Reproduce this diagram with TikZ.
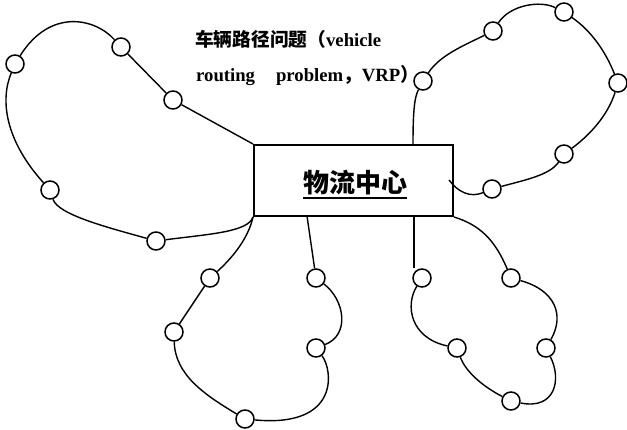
\documentclass[tikz,border=0pt]{standalone}
\usepackage{fontspec}
\setmainfont{Liberation Serif}
\newfontfamily\cjk{Noto Sans CJK SC}
\begin{document}
\begin{tikzpicture}[x=1pt,y=-1pt,
  stop/.style={circle,draw,line width=1.5pt,minimum size=18pt,inner sep=0pt},
  route/.style={line width=1.4pt},
  hub/.style={draw,line width=2pt,minimum width=199pt,minimum height=71pt,inner sep=0pt}]
\useasboundingbox (0,0) rectangle (627,430);
% title
\node[anchor=base west,inner sep=0pt,font=\fontsize{18.7}{22}\selectfont\bfseries] (t1) at (195,47) {{\cjk 车辆路径问题（}vehicle};
\node[anchor=base west,inner sep=0pt,font=\fontsize{18.7}{22}\selectfont\bfseries] (t2) at (196,82) {routing\hspace{21pt}problem{\cjk ，}VRP{\cjk ）}};
% hub
\node[hub] (box) at (353.5,180.5) {};
\node[anchor=base,inner sep=0pt,font=\fontsize{26}{30}\selectfont\cjk\bfseries] (hubtxt) at (355,193) {物流中心};
\draw[line width=2pt] ([yshift=-5pt]hubtxt.base west) -- ([yshift=-5pt]hubtxt.base east);
% border coordinates
\coordinate (bb1) at (307,216);
\coordinate (bb2) at (414,216);
\coordinate (bt1) at (413,145);
\coordinate (br1) at (449,180);
% stops
\node[stop] (L1) at (15,64) {};
\node[stop] (L2) at (121,47) {};
\node[stop] (L3) at (173,100) {};
\node[stop] (L4) at (50,190) {};
\node[stop] (L5) at (156,241) {};
\node[stop] (B1) at (210,278) {};
\node[stop] (B2) at (174,332) {};
\node[stop] (B3) at (245,419) {};
\node[stop] (B4) at (316,348) {};
\node[stop] (B5) at (316,278) {};
\node[stop] (R1) at (422,278) {};
\node[stop] (R2) at (457,348) {};
\node[stop] (R3) at (511,401) {};
\node[stop] (R4) at (546,348) {};
\node[stop] (R5) at (511,278) {};
\node[stop] (T1) at (423,81) {};
\node[stop] (T2) at (493,31) {};
\node[stop] (T3) at (564,12) {};
\node[stop] (T4) at (618,83) {};
\node[stop] (T5) at (564,154) {};
\node[stop] (T6) at (492,189) {};
% left loop
\draw[route] (box.north west) -- (L3);
\draw[route] (L3) -- (L2);
\draw[route] (L2) .. controls (95,18) and (50,8) .. (L1);
\draw[route] (L1) .. controls (0,100) and (5,140) .. (L4);
\draw[route] (L4) .. controls (58,215) and (110,228) .. (L5);
\draw[route] (L5) .. controls (210,234) and (248,232) .. (box.south west);
% bottom-left loop
\draw[route] (box.south west) .. controls (248,240) and (230,260) .. (B1);
\draw[route] (B1) -- (B2);
\draw[route] (B2) .. controls (175,375) and (205,395) .. (B3);
\draw[route] (B3) .. controls (340,428) and (333,370) .. (B4);
\draw[route] (B4) .. controls (350,335) and (345,300) .. (B5);
\draw[route] (B5) -- (bb1);
% bottom-right loop
\draw[route] (bb2) -- (bb2 |- R1.north);
\draw[route] (R1) .. controls (405,305) and (410,338) .. (R2);
\draw[route] (R2) .. controls (465,370) and (480,385) .. (R3);
\draw[route] (R3) .. controls (555,410) and (562,380) .. (R4);
\draw[route] (R4) .. controls (565,315) and (555,290) .. (R5);
\draw[route] (R5) .. controls (495,240) and (480,225) .. (box.south east);
% top-right loop
\draw[route] (bt1) .. controls (413,115) and (414,98) .. (T1);
\draw[route] (T1) .. controls (440,55) and (465,45) .. (T2);
\draw[route] (T2) .. controls (510,5) and (540,0) .. (T3);
\draw[route] (T3) .. controls (590,30) and (605,50) .. (T4);
\draw[route] (T4) .. controls (608,115) and (590,135) .. (T5);
\draw[route] (T5) .. controls (550,175) and (525,180) .. (T6);
\draw[route] (T6) .. controls (470,198) and (458,192) .. (br1);
\end{tikzpicture}
\end{document}
